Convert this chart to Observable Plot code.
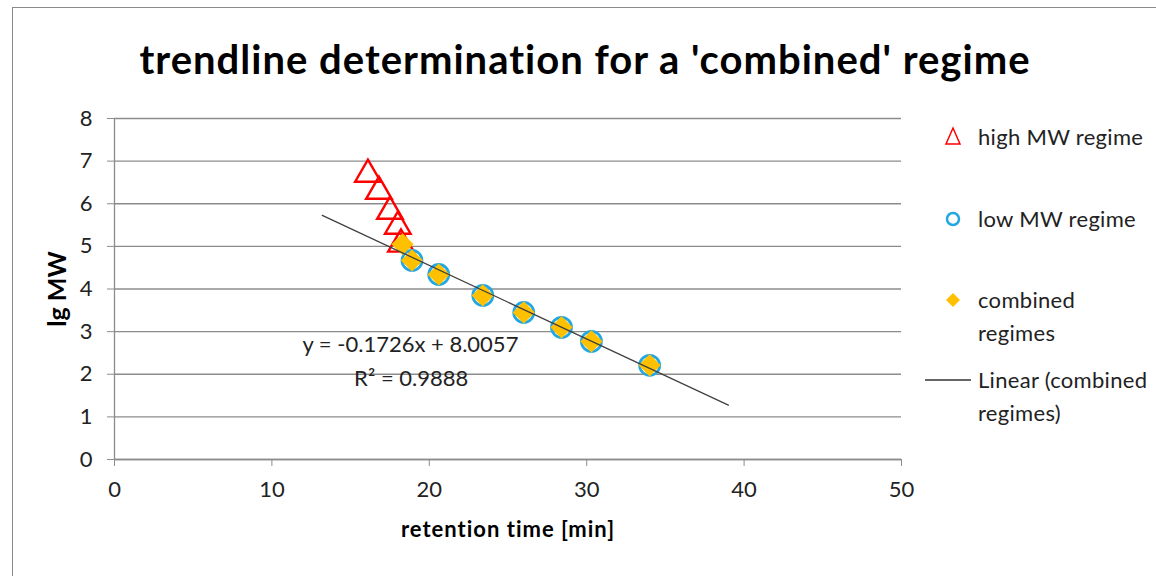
<!DOCTYPE html>
<html>
<head>
<meta charset="utf-8">
<script src="https://cdn.jsdelivr.net/npm/d3@7"></script>
<script src="https://cdn.jsdelivr.net/npm/@observablehq/plot@0.6"></script>
<style>
  html, body { margin: 0; padding: 0; background: #fff; }
  #wrap { position: relative; width: 1156px; height: 576px; overflow: hidden; font-family: Lato, "Open Sans", sans-serif; color: #222; }
  #frame { position: absolute; left: 12px; top: 7px; width: 1200px; height: 620px; border: 1.5px solid #8a8a8a; box-sizing: border-box; }
  #chart { position: absolute; left: 0; top: 0; }
  #title { position: absolute; left: 0; width: 1170px; top: 39px; text-align: center; font-weight: bold; font-size: 40px; letter-spacing: 1px; color: #000; line-height: 1; white-space: nowrap; }
  .leg { position: absolute; left: 925px; font-size: 22px; letter-spacing: 0.3px; line-height: 33px; color: #222; }
  .leg svg { position: absolute; }
  .leg span { position: absolute; left: 53px; white-space: nowrap; }
  g[aria-label="x-axis label"] text { font-weight: bold; fill: #000; font-size: 22px; letter-spacing: 1px; }
  g[aria-label="y-axis label"] text { font-weight: bold; fill: #000; }
</style>
</head>
<body>
<div id="wrap">
  <div id="frame"></div>
  <div id="chart"></div>
  <div id="title">trendline determination for a 'combined' regime</div>
  <div class="leg" style="top:120px">
    <svg width="60" height="34" style="left:0;top:0"><path d="M28,8 L35,24 L21,24 Z" fill="none" stroke="#ff0000" stroke-width="1.5"/></svg>
    <span style="top:0">high MW regime</span>
  </div>
  <div class="leg" style="top:202px">
    <svg width="60" height="34" style="left:0;top:0"><circle cx="28" cy="17" r="6" fill="none" stroke="#22a7e2" stroke-width="2.5"/></svg>
    <span style="top:0">low MW regime</span>
  </div>
  <div class="leg" style="top:283px">
    <svg width="60" height="34" style="left:0;top:0"><path d="M28,10 L35,17 L28,24 L21,17 Z" fill="#ffc000"/></svg>
    <span style="top:0">combined<br>regimes</span>
  </div>
  <div class="leg" style="top:363px">
    <svg width="60" height="34" style="left:0;top:0"><line x1="0" y1="17" x2="46" y2="17" stroke="#333" stroke-width="1.3"/></svg>
    <span style="top:0">Linear (combined<br>regimes)</span>
  </div>
</div>
<script>
// high MW regime (triangles)
const highX = [16.1, 16.8, 17.5, 18.0, 18.2];
const highY = [6.69, 6.29, 5.82, 5.47, 5.05];
// low MW regime (circles)
const lowX = [18.9, 20.6, 23.4, 26.0, 28.4, 30.3, 34.0];
const lowY = [4.67, 4.34, 3.85, 3.45, 3.10, 2.77, 2.21];
// combined regimes (diamonds)
const combX = [18.3, 18.9, 20.6, 23.4, 26.0, 28.4, 30.3, 34.0];
const combY = [5.05, 4.67, 4.34, 3.85, 3.45, 3.10, 2.77, 2.21];
// linear trendline (combined regimes): y = slope*x + intercept, drawn over x range
const trendSlope = -0.1726;
const trendIntercept = 8.0057;
const trendX = [13.2, 39.0];
// axis ticks
const xTicks = [0, 10, 20, 30, 40, 50];
const yTicks = [0, 1, 2, 3, 4, 5, 6, 7, 8];
// annotation
const eqText = ["y = -0.1726x + 8.0057", "R\u00b2 = 0.9888"];
const eqX = [18.8, 18.85];
const eqY = [2.68, 1.90];

const high = highX.map((x, i) => ({x, y: highY[i]}));
const low = lowX.map((x, i) => ({x, y: lowY[i]}));
const comb = combX.map((x, i) => ({x, y: combY[i]}));
const trend = trendX.map(x => ({x, y: trendSlope * x + trendIntercept}));
const eq = eqText.map((t, i) => ({x: eqX[i], y: eqY[i], t}));

const chart = Plot.plot({
  width: 1156,
  height: 576,
  marginLeft: 114,
  marginRight: 255,
  marginTop: 118,
  marginBottom: 117,
  style: {fontFamily: "Lato, 'Open Sans', sans-serif", fontSize: "22px", background: "transparent", color: "#222"},
  x: {domain: [0, 50]},
  y: {domain: [0, 8]},
  marks: [
    Plot.gridY(yTicks, {stroke: "#8c8c8c", strokeOpacity: 1, strokeWidth: 1.3}),
    Plot.ruleX([0], {stroke: "#8c8c8c", strokeWidth: 1.3}),
    Plot.ruleY([0], {stroke: "#8c8c8c", strokeWidth: 1.3}),
    Plot.axisY({ticks: yTicks, tickSize: 7, tickPadding: 15, stroke: "#8c8c8c", fill: "#222", fontSize: 22, label: null}),
    Plot.axisY({ticks: [], label: "lg MW", labelAnchor: "center", labelOffset: 66, labelArrow: "none", fontSize: 25, tickSize: 0}),
    Plot.axisX({ticks: xTicks, tickSize: 7, tickPadding: 15, stroke: "#8c8c8c", fill: "#222", label: "retention time [min]", labelAnchor: "center", labelOffset: 77, labelArrow: "none", fontSize: 22}),
    Plot.dot(high, {x: "x", y: "y", symbol: "triangle", r: 9.5, stroke: "#ff0000", strokeWidth: 2.4, fill: "none"}),
    Plot.dot(low, {x: "x", y: "y", symbol: "circle", r: 10, stroke: "#22a7e2", strokeWidth: 2.8, fill: "none"}),
    Plot.dot(comb, {x: "x", y: "y", symbol: "diamond2", r: 10, fill: "#ffc000", stroke: "none"}),
    Plot.line(trend, {x: "x", y: "y", stroke: "#404040", strokeWidth: 1.3}),
    Plot.text(eq, {x: "x", y: "y", text: "t", fill: "#222", fontSize: 22})
  ]
});
document.getElementById("chart").appendChild(chart);
</script>
</body>
</html>
